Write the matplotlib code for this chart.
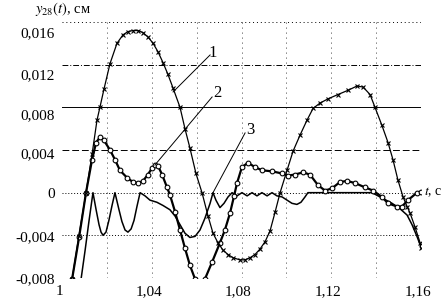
import matplotlib
matplotlib.use("Agg")
import matplotlib.pyplot as plt
import matplotlib.transforms as mtransforms

plt.rcParams["font.family"] = ["Liberation Serif", "DejaVu Serif"]
plt.rcParams["mathtext.fontset"] = "stix"

# кривая 1 (крестики)
t1 = [1.0020, 1.0045, 1.0075, 1.0107, 1.0134, 1.0156, 1.0169, 1.0187, 1.0214, 1.0245,
      1.0272, 1.0294, 1.0316, 1.0339, 1.0361, 1.0383, 1.0406, 1.0428, 1.0450, 1.0472,
      1.0495, 1.0526, 1.0548, 1.0570, 1.0597, 1.0624, 1.0651, 1.0673, 1.0695, 1.0718,
      1.0740, 1.0762, 1.0793, 1.0815, 1.0838, 1.0860, 1.0882, 1.0905, 1.0927, 1.0950,
      1.0972, 1.1003, 1.1030, 1.1061, 1.1092, 1.1119, 1.1150, 1.1186, 1.1230, 1.1275,
      1.1315, 1.1342, 1.1373, 1.1395, 1.1426, 1.1453, 1.1475, 1.1497, 1.1520, 1.1538,
      1.1551, 1.1573, 1.1596, 1.1600]
y1 = [-0.0110, -0.0081, -0.0041, 0.0000, 0.0036, 0.0068, 0.0080, 0.0097, 0.0121, 0.0140,
      0.0148, 0.0151, 0.0152, 0.0152, 0.0150, 0.0146, 0.0140, 0.0132, 0.0122, 0.0111,
      0.0098, 0.0080, 0.0060, 0.0042, 0.0018, 0.0000, -0.0022, -0.0038, -0.0047, -0.0054,
      -0.0058, -0.0061, -0.0063, -0.0063, -0.0061, -0.0058, -0.0053, -0.0046, -0.0036, -0.0018,
      0.0000, 0.0021, 0.0039, 0.0054, 0.0068, 0.0079, 0.0084, 0.0088, 0.0092, 0.0096,
      0.0100, 0.0099, 0.0092, 0.0080, 0.0063, 0.0047, 0.0031, 0.0012, -0.0004, -0.0013,
      -0.0019, -0.0032, -0.0047, -0.0052]

# кривая 2 (кружки)
t2 = [1.0030, 1.0045, 1.0076, 1.0107, 1.0134, 1.0152, 1.0169, 1.0187, 1.0214, 1.0236,
      1.0258, 1.0290, 1.0316, 1.0339, 1.0361, 1.0383, 1.0401, 1.0414, 1.0428, 1.0446,
      1.0468, 1.0481, 1.0504, 1.0526, 1.0548, 1.0570, 1.0593, 1.0615, 1.0637, 1.0669,
      1.0704, 1.0726, 1.0749, 1.0767, 1.0780, 1.0802, 1.0829, 1.0860, 1.0891, 1.0936,
      1.0981, 1.1007, 1.1038, 1.1074, 1.1105, 1.1141, 1.1172, 1.1203, 1.1239, 1.1270,
      1.1306, 1.1350, 1.1386, 1.1426, 1.1453, 1.1493, 1.1515, 1.1542, 1.1582, 1.1600]
y2 = [-0.0105, -0.0081, -0.0042, 0.0000, 0.0031, 0.0047, 0.0052, 0.0049, 0.0040, 0.0031,
      0.0021, 0.0014, 0.0010, 0.0009, 0.0011, 0.0017, 0.0023, 0.0026, 0.0025, 0.0017,
      0.0005, -0.0002, -0.0018, -0.0035, -0.0052, -0.0068, -0.0081, -0.0089, -0.0081, -0.0065,
      -0.0047, -0.0035, -0.0019, -0.0003, 0.0009, 0.0024, 0.0028, 0.0024, 0.0021, 0.0020,
      0.0018, 0.0016, 0.0017, 0.0019, 0.0017, 0.0007, 0.0002, 0.0004, 0.0010, 0.0011,
      0.0009, 0.0005, 0.0002, -0.0004, -0.0010, -0.0013, -0.0013, -0.0007, 0.0000, 0.0001]

# кривая 3 (сплошная)
t3 = [1.0080, 1.0085, 1.0103, 1.0120, 1.0138, 1.0152, 1.0165, 1.0174, 1.0183, 1.0196,
      1.0209, 1.0223, 1.0236, 1.0254, 1.0267, 1.0281, 1.0294, 1.0308, 1.0321, 1.0334,
      1.0348, 1.0370, 1.0392, 1.0423, 1.0450, 1.0481, 1.0504, 1.0526, 1.0548, 1.0570,
      1.0593, 1.0615, 1.0637, 1.0660, 1.0673, 1.0686, 1.0704, 1.0722, 1.0740, 1.0758,
      1.0780, 1.0802, 1.0825, 1.0847, 1.0869, 1.0891, 1.0914, 1.0936, 1.0958, 1.0981,
      1.1003, 1.1025, 1.1047, 1.1065, 1.1083, 1.1096, 1.1382, 1.1426, 1.1471, 1.1506,
      1.1538, 1.1560, 1.1582, 1.1600]
y3 = [-0.0088, -0.0081, -0.0054, -0.0027, 0.0000, -0.0016, -0.0030, -0.0037, -0.0040, -0.0037,
      -0.0026, -0.0012, 0.0000, -0.0016, -0.0027, -0.0035, -0.0037, -0.0034, -0.0026, -0.0013,
      0.0000, -0.0003, -0.0007, -0.0009, -0.0012, -0.0016, -0.0022, -0.0030, -0.0038, -0.0042,
      -0.0041, -0.0035, -0.0024, -0.0010, 0.0000, -0.0007, -0.0014, -0.0010, -0.0004, 0.0000,
      -0.0003, 0.0000, -0.0003, 0.0000, -0.0003, 0.0000, -0.0003, 0.0000, -0.0003, -0.0004,
      -0.0007, -0.0010, -0.0011, -0.0009, -0.0004, 0.0000, 0.0000, -0.0005, -0.0010, -0.0015,
      -0.0021, -0.0030, -0.0041, -0.0051]

x_ticks = [1.0, 1.04, 1.08, 1.12, 1.16]
x_labels = ["1", "1,04", "1,08", "1,12", "1,16"]
y_ticks = [-0.008, -0.004, 0.0, 0.004, 0.008, 0.012, 0.016]
y_labels = ["-0,008", "-0,004", "0", "0,004", "0,008", "0,012", "0,016"]
v_grid = [1.02, 1.04, 1.06, 1.08, 1.10, 1.12, 1.14, 1.16]

# номера кривых и выноски
curve_names = ["1", "2", "3"]
name_pos = [(1.0673, 0.0131), (1.0691, 0.0093), (1.0838, 0.0059)]
leader_from = [(1.0495, 0.00944), (1.0414, 0.00259), (1.0673, 0.0)]
leader_to = [(1.0660, 0.01291), (1.0669, 0.00897), (1.0816, 0.00560)]

fig = plt.figure(figsize=(4.45, 3.05), dpi=100)
ax = fig.add_axes([62 / 445, 1 - 278 / 305, 359 / 445, 256 / 305])

# сетка разными линиями, как в оригинале
h_styles = {-0.008: (0, (6, 3)), -0.004: (0, (1, 2)), 0.0: (0, (1, 2)),
            0.004: (0, (7, 3)), 0.008: "-", 0.012: (0, (6, 2, 1, 2)), 0.016: (0, (1, 3))}
for yv in y_ticks:
    ax.axhline(yv, color="black", lw=0.7, ls=h_styles[yv], zorder=1)
for xv in v_grid:
    ax.axvline(xv, color="black", lw=0.6, ls=(0, (1, 5)), zorder=1)

ax.plot(t3, y3, color="black", lw=1.1, zorder=3)
ax.plot(t2, y2, color="black", lw=1.6, marker="o", ms=3.4, mfc="white", mec="black",
        mew=0.8, zorder=4)
ax.plot(t1, y1, color="black", lw=0.9, marker="x", ms=3.5, mew=0.8, zorder=5)

for name, p, a, b in zip(curve_names, name_pos, leader_from, leader_to):
    ax.plot([a[0], b[0]], [a[1], b[1]], color="black", lw=0.7, zorder=6)
    ax.text(p[0], p[1], name, fontsize=12, ha="center", va="center")

ax.set_xlim(1.0, 1.16)
ax.set_ylim(-0.008, 0.016)
ax.set_xticks(x_ticks)
ax.set_xticklabels(x_labels, fontsize=11)
ax.set_yticks(y_ticks)
ax.set_yticklabels(y_labels, fontsize=11)
ax.tick_params(length=0, pad=5)
for s in ax.spines.values():
    s.set_visible(False)

# подписи в оригинале чуть смещены относительно линий сетки
y_shift = [0, 1, 0, 3, 7, 10, 10]
for lab, d in zip(ax.get_yticklabels(), y_shift):
    lab.set_transform(lab.get_transform() + mtransforms.ScaledTranslation(0, -d / 100, fig.dpi_scale_trans))
for lab in ax.get_xticklabels():
    lab.set_transform(lab.get_transform() + mtransforms.ScaledTranslation(-3 / 100, 0, fig.dpi_scale_trans))

fig.text(35 / 445, 1 - 9 / 305, r"$y_{28}(t)$, см", fontsize=10.5, ha="left", va="center")
ax.text(1.1612, 0.0, r"$t$, с", fontsize=10, ha="left", va="center", clip_on=False)

fig.savefig("out.png", dpi=100)
